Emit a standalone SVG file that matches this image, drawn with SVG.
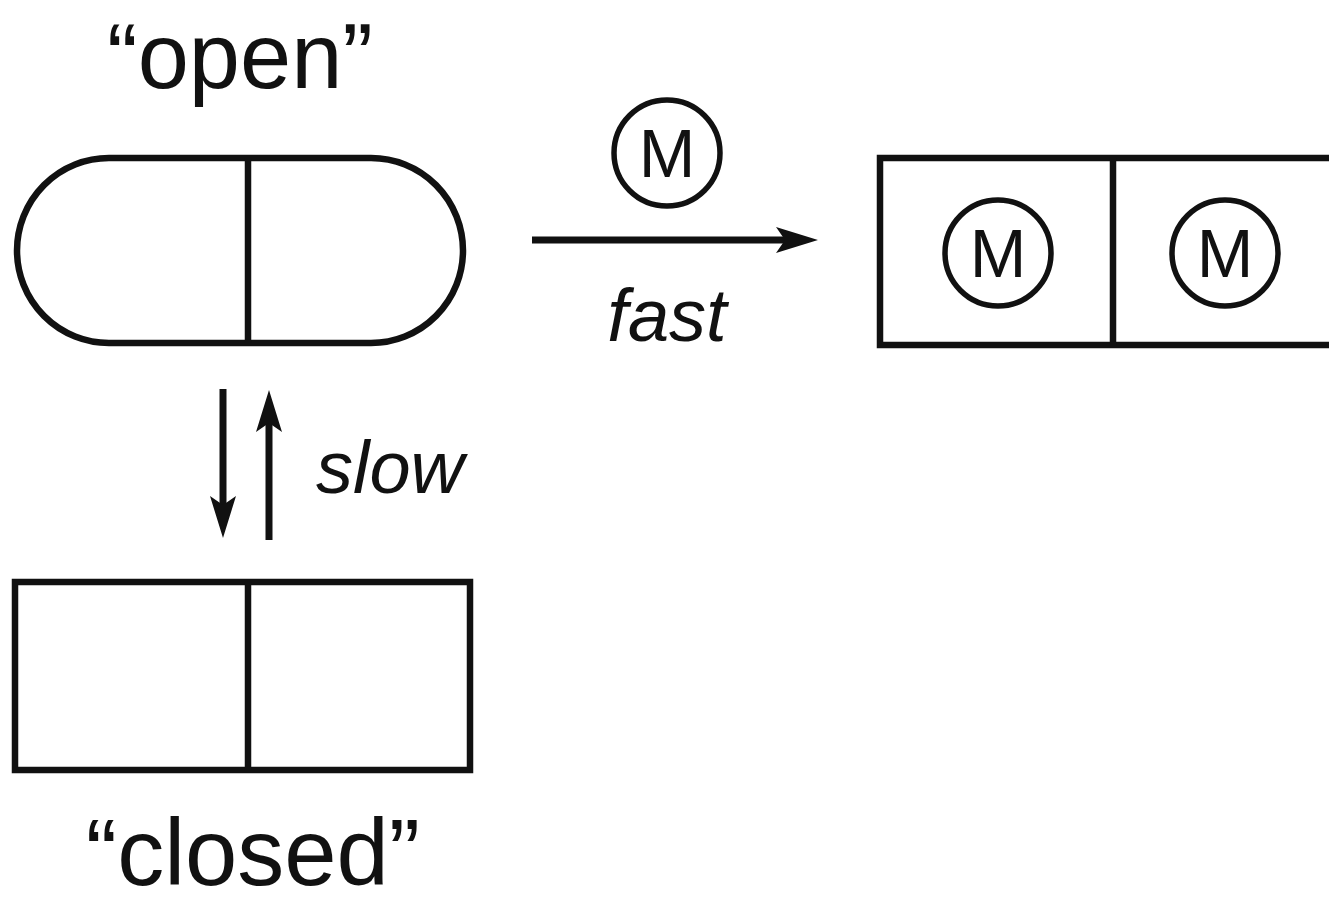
<svg xmlns="http://www.w3.org/2000/svg" width="1329" height="905" viewBox="0 0 1329 905">
<style>
.ln{fill:none;stroke:#111;stroke-width:6.5}
.thin{fill:none;stroke:#111;stroke-width:5.5}
.sh{fill:none;stroke:#111;stroke-width:7}
.hd{fill:#111;stroke:none}
.t{font-family:"Liberation Sans",Arial,sans-serif;fill:#111}
.it{font-style:italic}
</style>
<defs>
<path id="head" class="hd" d="M0,0 L-42,-13 L-33,0 L-42,13 Z"/>
</defs>
<rect width="1329" height="905" fill="#fff"/>
<g id="open">
<rect class="ln" x="17" y="158" width="446" height="185" rx="92" ry="92.5"/>
<line class="ln" x1="248" y1="158" x2="248" y2="343"/>
<text class="t" x="240" y="88" font-size="92" text-anchor="middle">“open”</text>
</g>
<g id="closed">
<rect class="ln" x="15" y="582" width="455" height="188"/>
<line class="ln" x1="248" y1="582" x2="248" y2="770"/>
<text class="t" x="253" y="885" font-size="94" text-anchor="middle">“closed”</text>
</g>
<g id="bound">
<path class="ln" d="M1335,158 H880 V345 H1335"/>
<line class="ln" x1="1113" y1="158" x2="1113" y2="345"/>
<circle class="thin" cx="998" cy="253" r="53"/>
<text class="t" x="998" y="277" font-size="68" text-anchor="middle">M</text>
<circle class="thin" cx="1225" cy="253" r="53"/>
<text class="t" x="1225" y="277" font-size="68" text-anchor="middle">M</text>
</g>
<g id="connectors">
<line class="sh" x1="532" y1="240" x2="785" y2="240"/>
<use href="#head" transform="translate(818,240)"/>
<line class="sh" x1="223" y1="389" x2="223" y2="505"/>
<use href="#head" transform="translate(223,538) rotate(90)"/>
<line class="sh" x1="269" y1="540" x2="269" y2="422"/>
<use href="#head" transform="translate(269,390) rotate(-90)"/>
</g>
<g id="labels">
<circle class="thin" cx="667" cy="153" r="53"/>
<text class="t" x="667" y="177" font-size="68" text-anchor="middle">M</text>
<text class="t it" x="667" y="341" font-size="74" text-anchor="middle">fast</text>
<text class="t it" x="316" y="493" font-size="74">slow</text>
</g>
</svg>
